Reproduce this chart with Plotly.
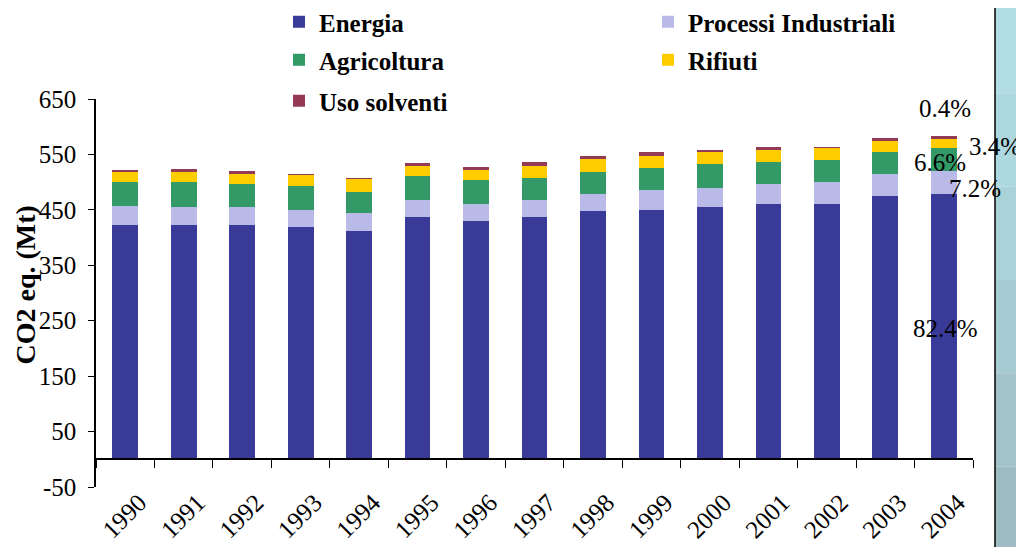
import plotly.graph_objects as go

years = ["1990", "1991", "1992", "1993", "1994", "1995", "1996", "1997",
         "1998", "1999", "2000", "2001", "2002", "2003", "2004"]
energia = [422, 422, 422, 419, 412, 437, 430, 437, 448, 450, 455, 460, 460, 475, 478]
processi = [35, 34, 34, 31, 32, 31, 31, 31, 31, 36, 34, 36, 40, 40, 43]
agricoltura = [43, 44, 40, 43, 39, 43, 43, 40, 40, 40, 43, 40, 40, 40, 40]
rifiuti = [20, 18, 19, 20, 23, 18, 18, 22, 22, 22, 24, 22, 23, 20, 16]
solventi = [0.3, 5, 5, 0.3, 0.3, 5.5, 5.5, 5.5, 5.5, 5.5, 0.3, 5.5, 0.3, 5.5, 5.5]

y_tickvals = [-50, 50, 150, 250, 350, 450, 550, 650]
y_ticktext = ["-50", "50", "150", "250", "350", "450", "550", "650"]

series = [
    ("Energia", energia, "#3a3a98", "legend"),
    ("Processi Industriali", processi, "#babae8", "legend"),
    ("Agricoltura", agricoltura, "#339966", "legend2"),
    ("Rifiuti", rifiuti, "#ffcc00", "legend2"),
    ("Uso solventi", solventi, "#953a55", "legend3"),
]

pct_labels = ["0.4%", "3.4%", "6.6%", "7.2%", "82.4%"]
pct_pos = [(945, 108), (995, 146), (940, 162), (975, 188), (945, 328)]

serif = "Liberation Serif, Times New Roman, serif"

# page is offset by the browser's 8px body margin
OFF = 8
W, H = 1024 - OFF, 547 - OFF
L, R, T, B = 96 - OFF, 1024 - 973, 99 - OFF, 60
pw, ph = W - L - R, H - T - B

def px_to_paper(px, py):
    fx, fy = px - OFF, py - OFF
    return (fx - L) / pw, (H - B - fy) / ph

fig = go.Figure()
for name, vals, col, lg in series:
    fig.add_trace(go.Bar(x=years, y=vals, name=name, marker_color=col,
                         marker_line_width=0, legend=lg))

# decorative strip on right
x0, _ = px_to_paper(995, 0)
x1, _ = px_to_paper(1030, 0)
_, ytop = px_to_paper(0, 0)
_, ybot = px_to_paper(0, 560)
strip_cols = ["#b3dde4", "#aed8df", "#a9d2d9", "#a6cbd2", "#a2c3ca", "#9fbcc3"]
n = len(strip_cols)
for i, c in enumerate(strip_cols):
    ya = ytop - (ytop - ybot) * i / n
    yb = ytop - (ytop - ybot) * (i + 1) / n
    fig.add_shape(type="rect", xref="paper", yref="paper", x0=x0, x1=x1,
                  y0=yb, y1=ya, fillcolor=c, line_width=0, layer="below")
fig.add_shape(type="line", xref="paper", yref="paper", x0=x0, x1=x0,
              y0=ybot, y1=ytop, line=dict(color="black", width=1.5))

for t, (px, py) in zip(pct_labels, pct_pos):
    ax, ay = px_to_paper(px, py)
    fig.add_annotation(text=t, x=ax, y=ay, xref="paper", yref="paper",
                       showarrow=False, font=dict(family=serif, size=25, color="black"),
                       xanchor="center", yanchor="middle")

# y-axis title
tx, ty = px_to_paper(OFF, 285)
fig.add_annotation(text="<b>CO2 eq. (Mt)</b>", x=tx, y=ty, xref="paper", yref="paper",
                   showarrow=False, textangle=-90, borderpad=0,
                   font=dict(family=serif, size=28, color="black"),
                   xanchor="left", yanchor="middle")

zero_pos = (0 - (-50)) / 700
leg_font = dict(family=serif, size=25, color="black", weight="bold")

def leg(row_y):
    lx, ly = px_to_paper(279, row_y)
    return dict(orientation="h", x=lx, y=ly, xanchor="left", yanchor="middle",
                entrywidth=324, traceorder="normal", font=leg_font,
                borderwidth=0, bgcolor="rgba(0,0,0,0)")

fig.update_layout(
    width=W, height=H,
    margin=dict(l=L, r=R, t=T, b=B, autoexpand=False),
    barmode="stack",
    bargap=0.56,
    plot_bgcolor="white",
    paper_bgcolor="white",
    font=dict(family=serif, color="black"),
    legend=leg(22),
    legend2=leg(60),
    legend3=leg(101),
    xaxis=dict(anchor="free", position=zero_pos, showline=True, linecolor="black",
               linewidth=1.5, ticks="outside", tickson="boundaries", ticklen=8,
               tickcolor="black", tickangle=-45, ticklabelstandoff=18,
               ticklabelshift=14, automargin=False,
               tickfont=dict(family=serif, size=25, color="black"),
               showgrid=False),
    yaxis=dict(range=[-50, 650], tickvals=y_tickvals, ticktext=y_ticktext,
               showline=True, automargin=False, ticklabelstandoff=7,
               linecolor="black", linewidth=1.5, ticks="outside", ticklen=6,
               tickcolor="black", showgrid=False, zeroline=False,
               tickfont=dict(family=serif, size=25, color="black")),
)

fig.write_html("out.html")
